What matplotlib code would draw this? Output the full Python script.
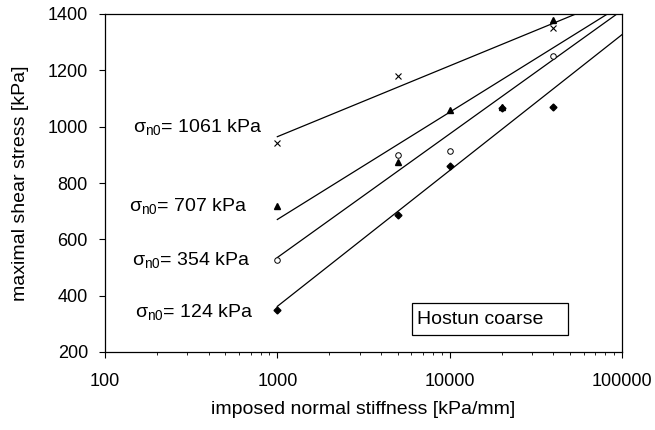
import numpy as np
import matplotlib
matplotlib.use('Agg')
import matplotlib.pyplot as plt
from matplotlib.patches import Rectangle
from matplotlib.ticker import FixedLocator, FuncFormatter, LogLocator, NullFormatter

plt.rcParams['font.family'] = ['Liberation Sans', 'DejaVu Sans']
plt.rcParams['mathtext.fontset'] = 'custom'
plt.rcParams['mathtext.rm'] = 'Liberation Sans'

## data: imposed normal stiffness [kPa/mm] vs max shear stress [kPa]
stiff_1061 = [1000, 5000, 40000]
tau_1061 = [942, 1180, 1350]

stiff_707 = [1000, 5000, 10000, 20000, 40000]
tau_707 = [720, 875, 1060, 1070, 1380]

stiff_354 = [1000, 5000, 10000, 40000]
tau_354 = [525, 900, 915, 1250]

stiff_124 = [1000, 5000, 10000, 20000, 40000]
tau_124 = [350, 685, 860, 1065, 1070]

labels = ['1061', '707', '354', '124']

series = [
    (stiff_1061, tau_1061, dict(marker='x', mfc='none', mec='black', ms=4.5, mew=0.8)),
    (stiff_707, tau_707, dict(marker='^', mfc='black', mec='black', ms=4.5)),
    (stiff_354, tau_354, dict(marker='o', mfc='white', mec='black', ms=4, mew=0.7)),
    (stiff_124, tau_124, dict(marker='D', mfc='black', mec='black', ms=3.5)),
]
# label anchor (right end, centre) in data coords
label_pos = [(815, 995), (667, 714), (694, 523), (723, 338)]

fig = plt.figure(figsize=(6.55, 4.3), dpi=100)
ax = fig.add_axes([105/655, 1-352/430, 517/655, 338/430])

xfit = np.array([1000, 100000])
for xs, ys, style in series:
    # log-linear trend line
    b, a = np.polyfit(np.log10(xs), ys, 1)
    ax.plot(xfit, a + b*np.log10(xfit), color='black', lw=0.9, zorder=2)
    ax.plot(xs, ys, ls='none', zorder=3, **style)

for lab, (px, py) in zip(labels, label_pos):
    ax.text(px, py, 'σ$_{\\mathregular{n0}}$= %s kPa' % lab, ha='right', va='center', fontsize=14)

ax.add_patch(Rectangle((0.594, 0.0503), 0.3015, 0.0947, transform=ax.transAxes,
                       fc='white', ec='black', lw=0.9, zorder=4))
ax.text(0.6035, 0.0976, 'Hostun coarse', transform=ax.transAxes, ha='left', va='center',
        fontsize=14, zorder=5)

ax.set_xscale('log')
ax.set_xlim(100, 100000)
ax.set_ylim(200, 1400)
ax.yaxis.set_major_locator(FixedLocator([200, 400, 600, 800, 1000, 1200, 1400]))
ax.xaxis.set_major_locator(FixedLocator([100, 1000, 10000, 100000]))
ax.xaxis.set_major_formatter(FuncFormatter(lambda v, p: '%d' % v))
ax.xaxis.set_minor_locator(LogLocator(base=10, subs=np.arange(2, 10)))
ax.xaxis.set_minor_formatter(NullFormatter())
ax.tick_params(axis='x', which='major', direction='out', length=4, width=0.8, labelsize=13, pad=11)
ax.tick_params(axis='y', which='major', direction='out', length=4.3, width=0.8, labelsize=13, pad=8)
ax.tick_params(axis='x', which='minor', direction='out', length=2.5, width=0.6)
for s in ax.spines.values():
    s.set_linewidth(0.9)

ax.set_xlabel('imposed normal stiffness [kPa/mm]', fontsize=14, labelpad=8)
ax.set_ylabel('maximal shear stress [kPa]', fontsize=14, labelpad=13)

fig.savefig('out.png', dpi=100)
